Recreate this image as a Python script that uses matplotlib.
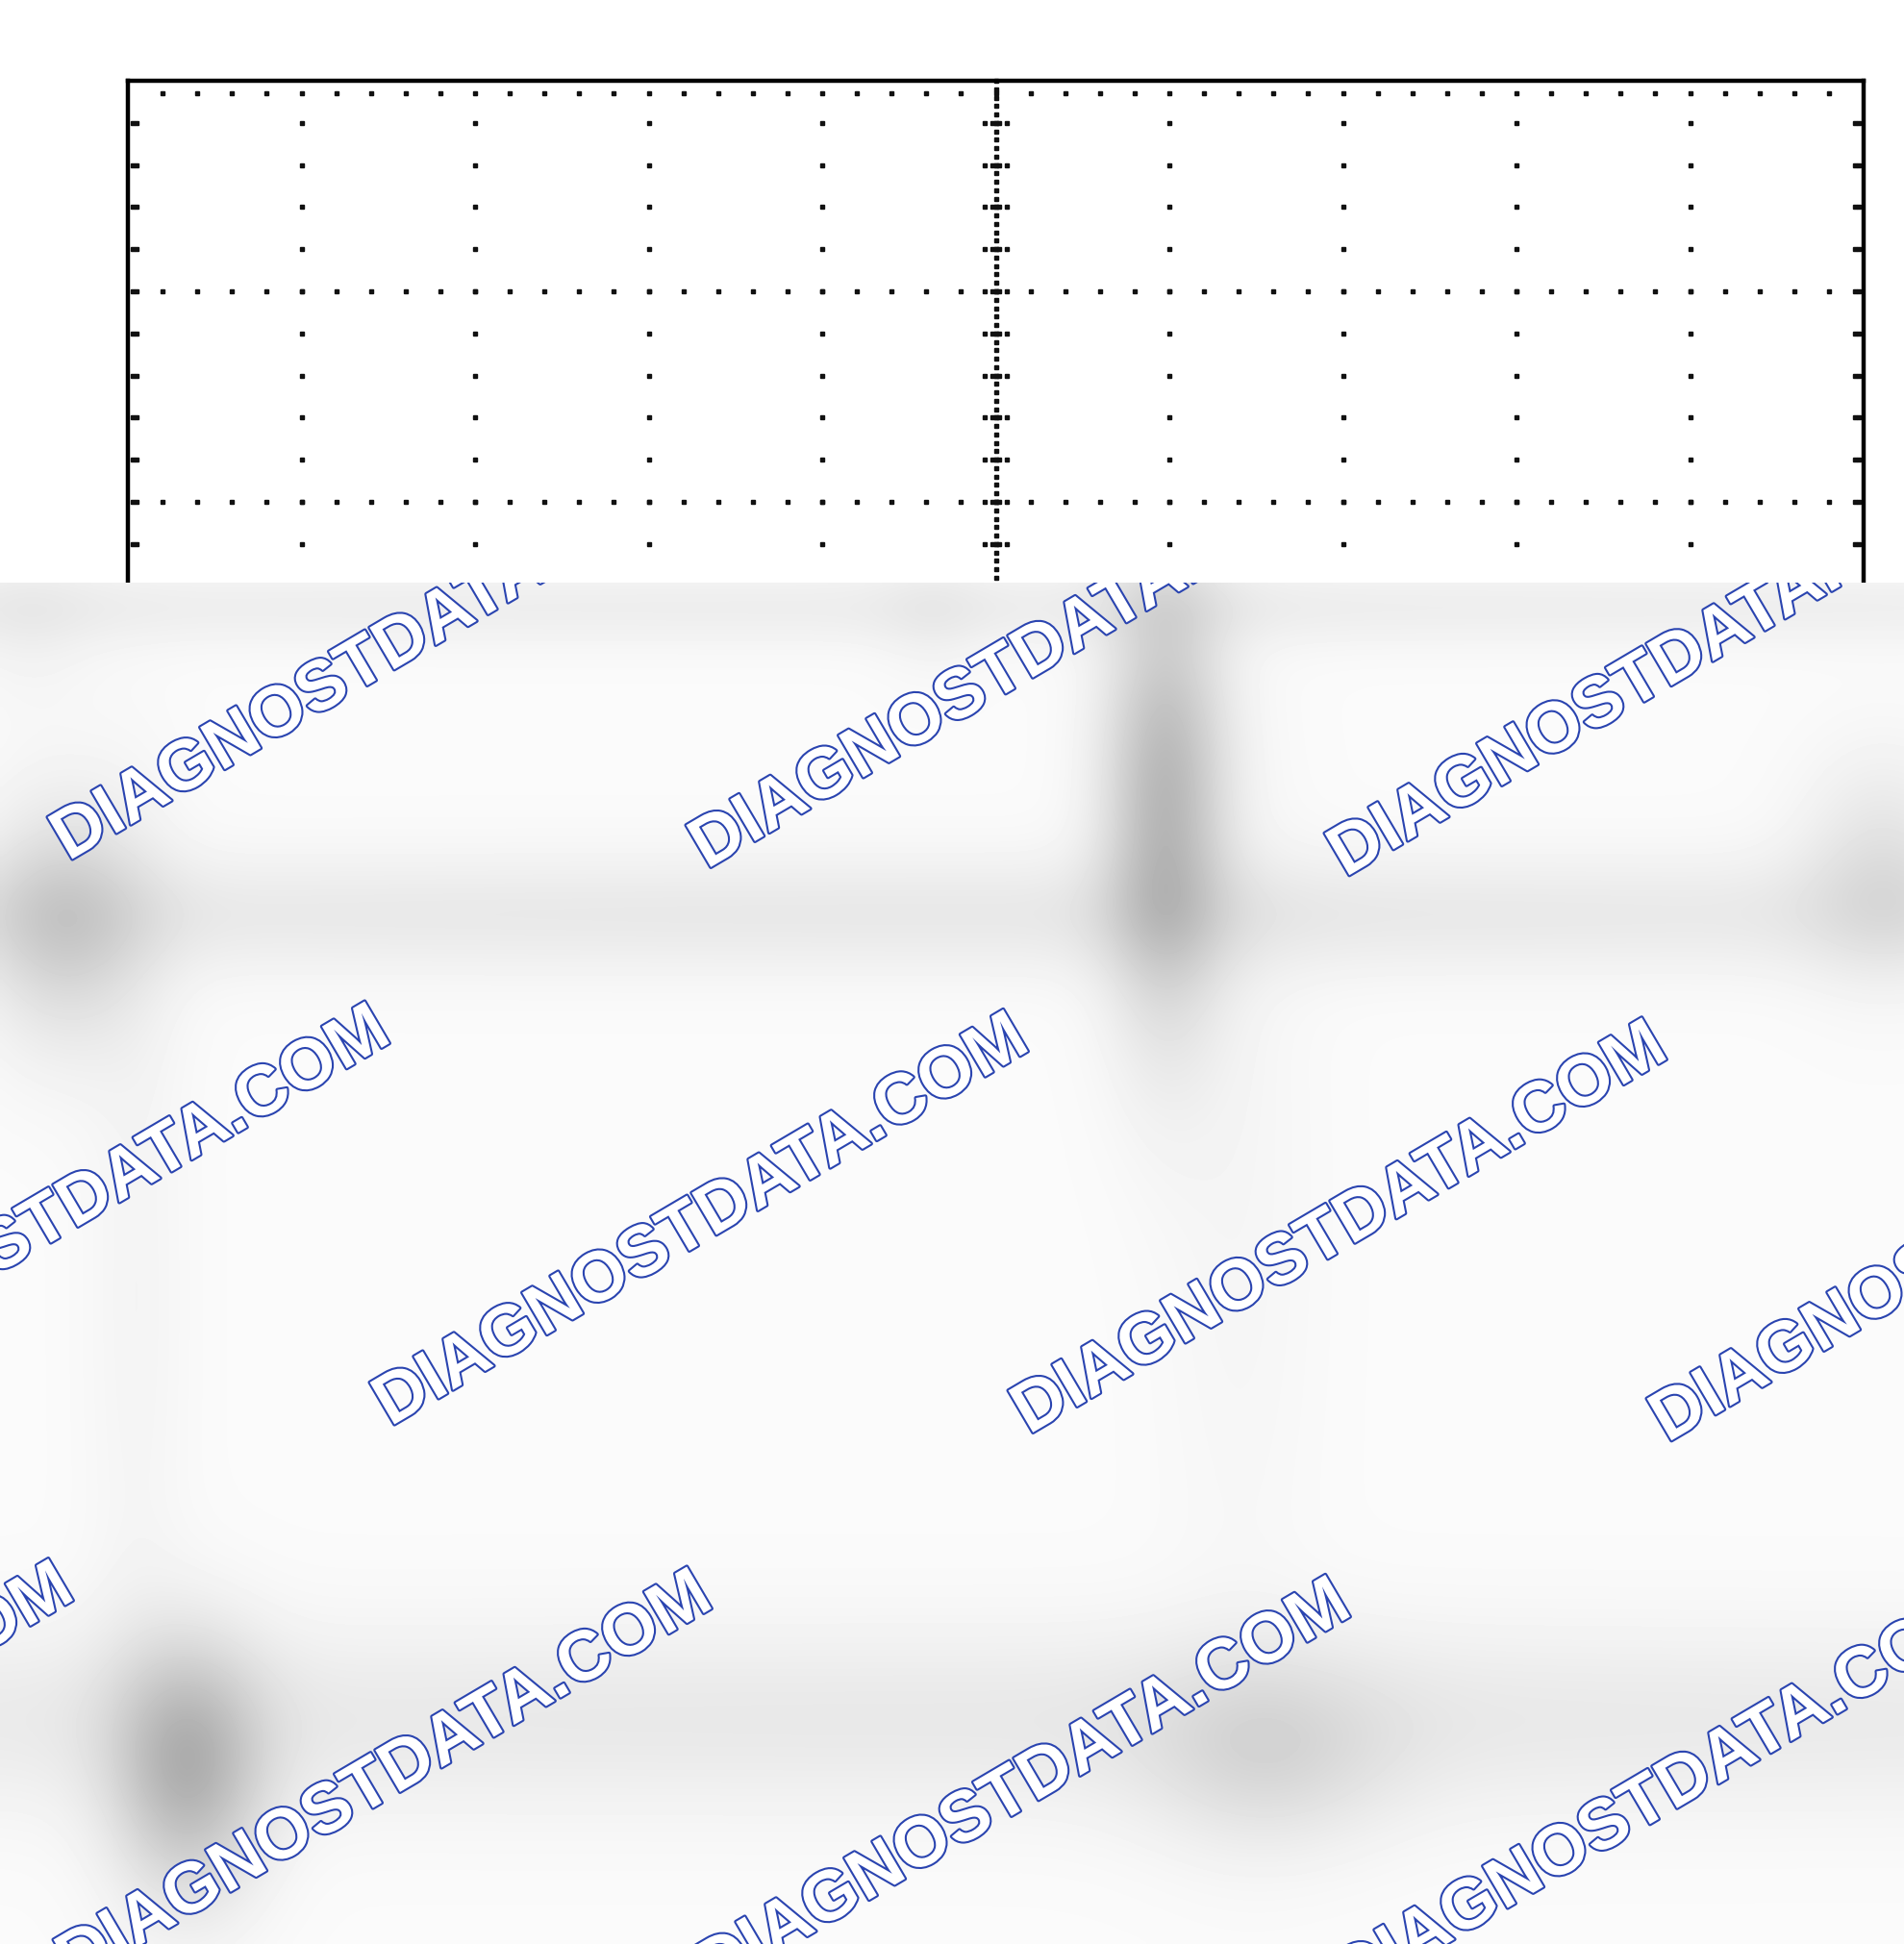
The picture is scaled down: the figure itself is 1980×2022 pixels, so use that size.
import numpy as np
import matplotlib
matplotlib.use("Agg")
import matplotlib.pyplot as plt
import matplotlib.patheffects as pe

# graticule of the scope screen (divisions)
n_div_x = 10
n_div_y = 8
n_sub = 5

# watermark
wm_text = "DIAGNOSTDATA.COM"
wm_angle = 30.5
wm_origin = (71, 896)
wm_step_a = (664, 8.4)
wm_step_b = (335, 588)

# blurred grey blobs under the watermark: x, y, sx, sy, depth (pixels)
blob_x = [1212, 1000, 65, 1000, 195, 1000, 1320, 1960, 140, 1290, 970, 30]
blob_y = [835, 950, 960, 630, 1845, 1790, 1830, 900, 1350, 1250, 640, 650]
blob_sx = [45, 2000, 60, 2000, 55, 2000, 90, 60, 40, 60, 40, 50]
blob_sy = [160, 45, 90, 30, 90, 70, 70, 80, 350, 350, 50, 60]
blob_d = [0.26, 0.07, 0.15, 0.05, 0.25, 0.07, 0.09, 0.09, 0.025, 0.02, 0.025, 0.03]

W, H = 1980, 2022
cut = 606

fig = plt.figure(figsize=(W / 100, H / 100), dpi=100)
fig.patch.set_facecolor("white")

# --- scope screen ---
left, top = 133, 84
pw = 1805
ph = 219 * n_div_y
ax = fig.add_axes([left / W, 1 - (top + ph) / H, pw / W, ph / H])
ax.set_xlim(0, n_div_x)
ax.set_ylim(n_div_y, 0)
ax.set_xticks([])
ax.set_yticks([])
for s in ax.spines.values():
    s.set_linewidth(3.2)
    s.set_color("black")

dot = dict(ls="none", marker="s", ms=2.8, color="#111111", clip_on=False)
mx = np.linspace(0, n_div_x, n_div_x * n_sub + 1)[1:-1]
my = np.linspace(0, n_div_y, n_div_y * n_sub + 1)[1:-1]

for yj in range(1, n_div_y):
    ax.plot(mx, np.full_like(mx, yj), **dot)
for xi in range(1, n_div_x):
    ax.plot(np.full_like(my, xi), my, **dot)

# edge ticks
ax.plot(mx, np.full_like(mx, 0.06), **dot)
ax.plot(mx, np.full_like(mx, n_div_y - 0.06), **dot)
for off in (0.025, 0.05):
    ax.plot(np.full_like(my, off), my, **dot)
    ax.plot(np.full_like(my, n_div_x - off), my, **dot)

# centre axes with fine dots and cross ticks
cx, cy = n_div_x / 2, n_div_y / 2
fy = np.arange(0, n_div_y, 0.04)
ax.plot(np.full_like(fy, cx), fy, **dot)
fx = np.arange(0, n_div_x, 0.04)
ax.plot(fx, np.full_like(fx, cy), **dot)
for d in (-0.066, -0.022, 0.022, 0.066):
    ax.plot(np.full_like(my, cx + d), my, **dot)
for d in (-0.08, -0.027, 0.027, 0.08):
    ax.plot(mx, np.full_like(mx, cy + d), **dot)

# --- blurred overlay with watermark ---
ax2 = fig.add_axes([0, 0, 1, (H - cut) / H])
ax2.set_xlim(0, W)
ax2.set_ylim(H, cut)
ax2.axis("off")

gx = np.linspace(0, W, W // 4)
gy = np.linspace(cut, H, (H - cut) // 4)
XX, YY = np.meshgrid(gx, gy)
img = np.full(XX.shape, 0.982)
for bx, by, sx, sy, dd in zip(blob_x, blob_y, blob_sx, blob_sy, blob_d):
    img -= dd * np.exp(-((XX - bx) ** 2 / (2 * sx ** 2) + (YY - by) ** 2 / (2 * sy ** 2)))
ax2.imshow(img, extent=(0, W, H, cut), cmap="gray", vmin=0, vmax=1,
           interpolation="bilinear", aspect="auto", zorder=0)

for j in range(-1, 4):
    for i in range(-2, 4):
        x0 = wm_origin[0] + i * wm_step_a[0] + j * wm_step_b[0]
        y0 = wm_origin[1] + i * wm_step_a[1] + j * wm_step_b[1]
        if x0 > W + 50 or x0 < -900 or y0 < cut - 50 or y0 > H + 450:
            continue
        ax2.text(x0, y0, wm_text, rotation=wm_angle, rotation_mode="anchor",
                 ha="left", va="baseline", fontsize=53, fontweight="bold",
                 family=["Liberation Sans", "DejaVu Sans"], color="white",
                 path_effects=[pe.withStroke(linewidth=3, foreground="#2a44b0")],
                 clip_on=True, zorder=2)

fig.savefig("out.png", dpi=100, facecolor="white")
